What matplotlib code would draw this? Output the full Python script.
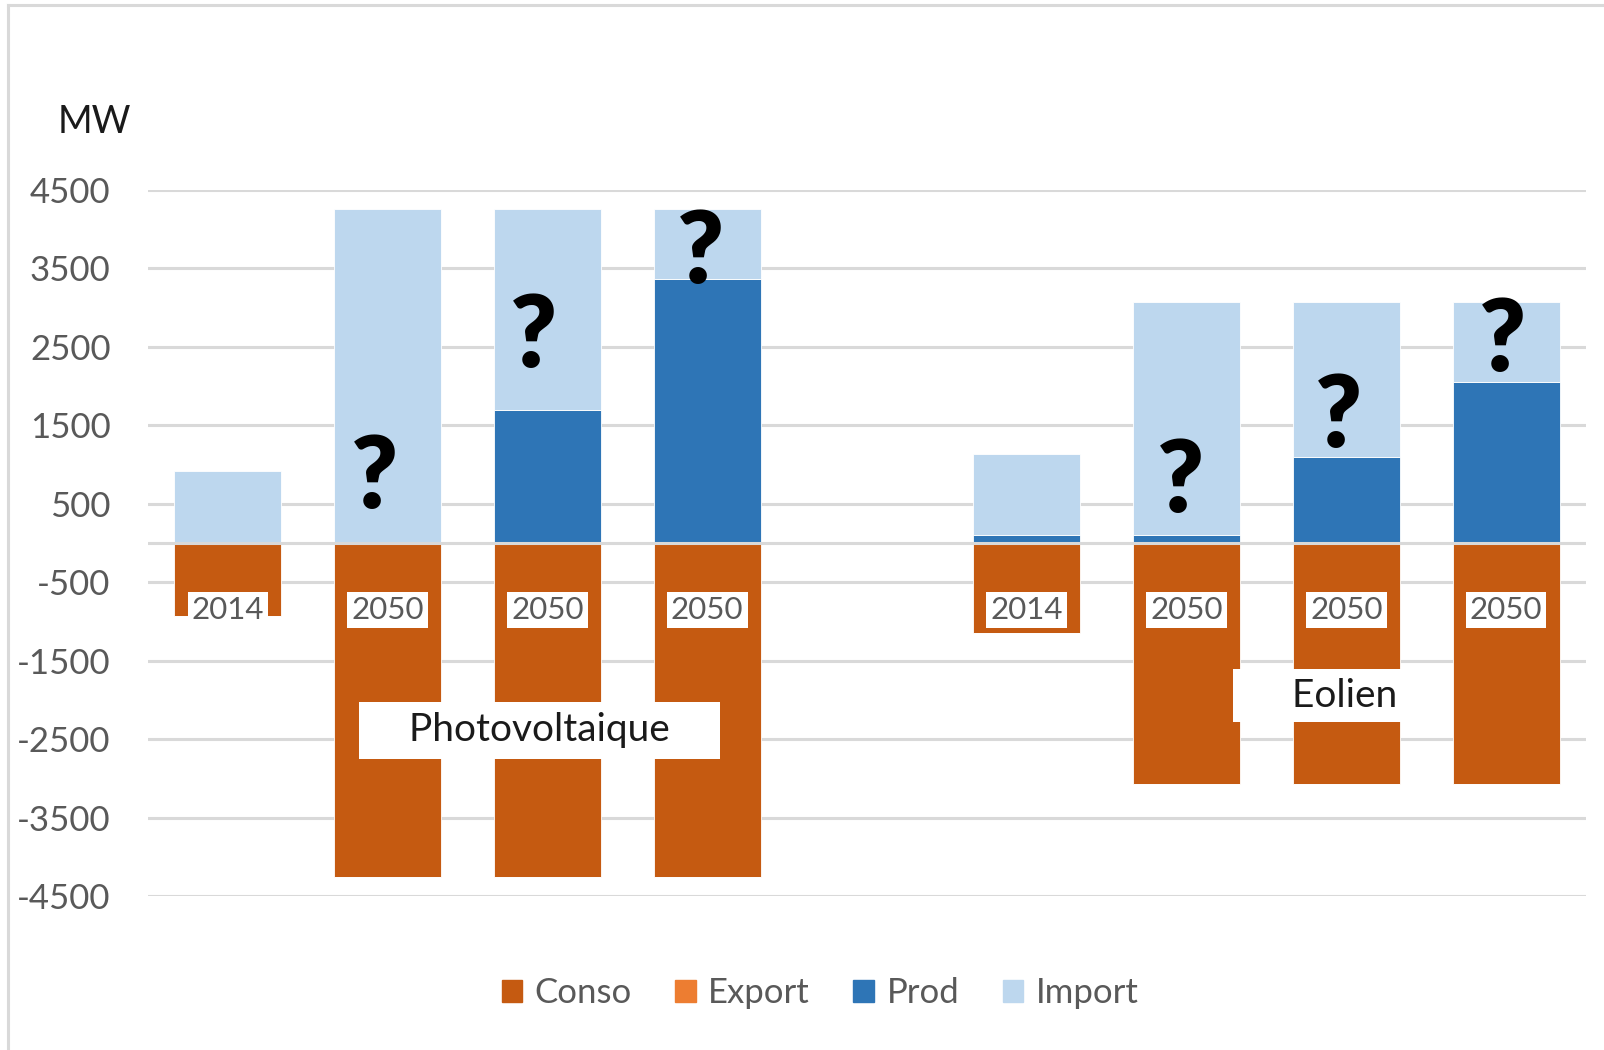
import numpy as np
import matplotlib
matplotlib.use('Agg')
import matplotlib.pyplot as plt
from matplotlib.patches import Patch
from matplotlib.lines import Line2D

plt.rcParams['font.family'] = ['Lato', 'DejaVu Sans']

# data (MW), one empty slot between the two groups
years = ['2014', '2050', '2050', '2050', '', '2014', '2050', '2050', '2050']
conso = [-930, -4260, -4260, -4260, 0, -1145, -3070, -3070, -3070]
export = [0, 0, 0, 0, 0, 0, 0, 0, 0]
prod = [0, 0, 1700, 3360, 0, 100, 100, 1090, 2050]
imports = [920, 4260, 2560, 900, 0, 1040, 2975, 1985, 1025]

# question marks (slot, baseline in MW)
q_x = [0.92, 1.91, 2.96, 5.96, 6.95, 7.975]
q_y = [450, 2248, 3314, 400, 1219, 2195]

c_conso = '#C55A11'
c_export = '#ED7D31'
c_prod = '#2E75B6'
c_import = '#BDD7EE'
grid_c = '#D9D9D9'
txt_c = '#595959'

x = np.arange(len(years))
conso = np.array(conso)
export = np.array(export)
prod = np.array(prod)
imports = np.array(imports)

fig = plt.figure(figsize=(16.04, 10.5), dpi=100)
ax = fig.add_axes([148/1604, 1-896/1050, (1586-148)/1604, (896-190)/1050])

w = 0.67
ax.bar(x, conso, w, color=c_conso, edgecolor='white', linewidth=0.6, zorder=2)
ax.bar(x, export, w, bottom=conso, color=c_export, edgecolor='white', linewidth=0.6, zorder=2)
ax.bar(x, prod, w, color=c_prod, edgecolor='white', linewidth=0.6, zorder=2)
ax.bar(x, imports, w, bottom=prod, color=c_import, edgecolor='white', linewidth=0.6, zorder=2)

ax.set_xlim(-0.5, len(years) - 0.5)
ax.set_ylim(-4500, 4500)
yt = np.arange(-4500, 4501, 1000)
ax.set_yticks(yt)
ax.set_yticklabels([str(v) for v in yt])
for v in yt:
    ax.axhline(v, color=grid_c, lw=2.2, zorder=0)
ax.axhline(0, color=grid_c, lw=2.2, zorder=3)
ax.set_xticks([])
ax.tick_params(axis='y', length=0, pad=27, labelsize=25, labelcolor=txt_c)
for s in ax.spines.values():
    s.set_visible(False)

# year labels
for i, yr in enumerate(years):
    if yr:
        ax.text(i, -850, yr, ha='center', va='center', fontsize=22.5, color=txt_c,
                bbox=dict(boxstyle='square,pad=0.13', fc='white', ec='none'), zorder=4)

for qx, qy in zip(q_x, q_y):
    ax.text(qx, qy, '?', ha='center', va='baseline', fontsize=72,
            fontweight='heavy', color='black', zorder=4)

ax.text(1.95, -2387, '    Photovoltaique    ', ha='center', va='center', fontsize=28,
        color='#1a1a1a', bbox=dict(boxstyle='square,pad=0.27', fc='white', ec='none'), zorder=4)
ax.text(6.83, -1949, '     Eolien', ha='center', va='center', fontsize=28,
        color='#1a1a1a', bbox=dict(boxstyle='square,pad=0.22', fc='white', ec='none'), zorder=4)

fig.text(58/1604, 1-133/1050, 'MW', ha='left', va='baseline', fontsize=27, color='#1a1a1a')

handles = [Patch(color=c_conso), Patch(color=c_export), Patch(color=c_prod), Patch(color=c_import)]
fig.legend(handles, ['Conso', 'Export', 'Prod', 'Import'], loc='center',
           bbox_to_anchor=(820/1604, 1-993/1050), ncol=4, frameon=False,
           fontsize=25, labelcolor=txt_c, handlelength=0.6, handleheight=0.6,
           handletextpad=0.35, columnspacing=1.25)

# chart border (left and top only visible)
fig.add_artist(Line2D([8/1604, 8/1604], [0, 1-5/1050], color=grid_c, lw=2.2))
fig.add_artist(Line2D([8/1604, 1], [1-5/1050, 1-5/1050], color=grid_c, lw=2.2))

fig.savefig('out.png', dpi=100)
